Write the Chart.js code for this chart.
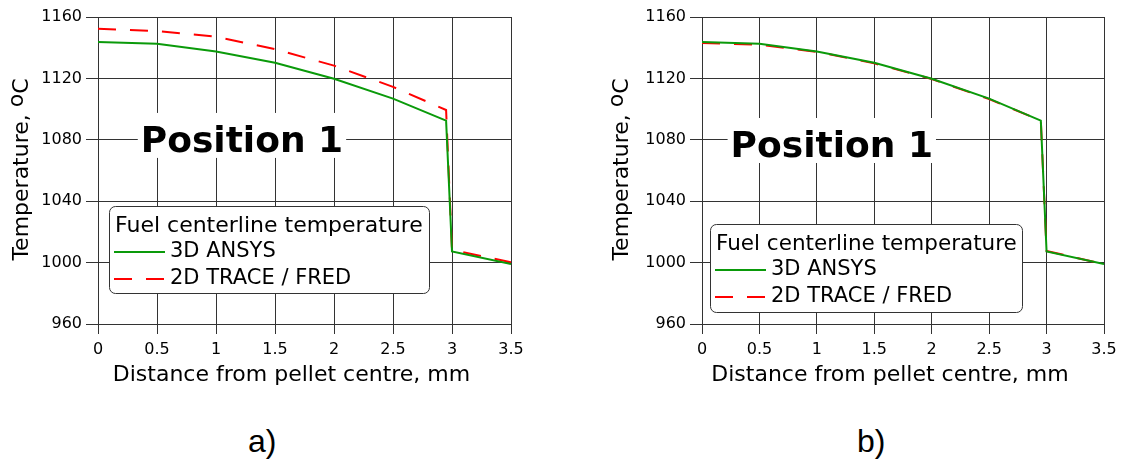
<!DOCTYPE html>
<html>
<head>
<meta charset="utf-8">
<script src="https://cdn.jsdelivr.net/npm/chart.js@4.4.1/dist/chart.umd.min.js"></script>
<style>
  html, body { margin: 0; padding: 0; background: #fff; }
  body { width: 1137px; height: 462px; position: relative; overflow: hidden; }
  .panel { position: absolute; top: 0; height: 400px; }
  .cap { position: absolute; font-family: "Liberation Sans Narrow", "Liberation Sans", Arial, sans-serif; font-size: 32px; line-height: 32px; color: #000; }
</style>
</head>
<body>
<div class="panel" style="left:0;width:560px"><canvas id="chartA" width="560" height="400"></canvas></div>
<div class="panel" style="left:600px;width:537px"><canvas id="chartB" width="537" height="400"></canvas></div>
<div class="cap" style="left:248px;top:425px">a)</div>
<div class="cap" style="left:857px;top:425px">b)</div>

<script>
// distance from pellet centre, mm
const xDist = [0, 0.5, 1, 1.5, 2, 2.5, 2.95, 3.0, 3.5];

// panel a)
const ansysA = [1143.7, 1142.5, 1137.5, 1130.2, 1119.8, 1106.8, 1092.5, 1007.2, 999.0];
const traceA = [1152.3, 1150.9, 1147.2, 1139.0, 1128.3, 1114.5, 1099.4, 1008.3, 1000.2];

// panel b)
const ansysB = [1143.7, 1142.5, 1137.5, 1130.2, 1119.8, 1106.8, 1092.5, 1007.2, 999.0];
const traceB = [1143.1, 1142.0, 1137.3, 1129.8, 1119.6, 1106.5, 1092.5, 1007.6, 999.0];

const seriesNames = ['3D ANSYS', '2D TRACE / FRED'];
const legendTitle = 'Fuel centerline temperature';
const tagText = 'Position 1';

const xTicks = [0, 0.5, 1, 1.5, 2, 2.5, 3, 3.5];
const xTickLabels = ['0', '0.5', '1', '1.5', '2', '2.5', '3', '3.5'];
const yTicks = [960, 1000, 1040, 1080, 1120, 1160];
const yTickLabels = ['960', '1000', '1040', '1080', '1120', '1160'];

const xTitle = 'Distance from pellet centre, mm';
const yTitle = ['Temperature, ', 'o', 'C'];

const FONT = '"DejaVu Sans", Verdana, sans-serif';
const GREEN = '#0a9a0a';
const RED = '#ff0000';
const GRID = '#333';

const extras = {
    id: 'extras',
    beforeDatasetsDraw(chart, args, o) {
        const { ctx, chartArea, scales } = chart;
        ctx.save();

        // "Position 1" tag on a white patch
        ctx.font = 'bold 36px ' + FONT;
        const tw = ctx.measureText(tagText).width;
        const tx = scales.x.getPixelForValue(o.tagAt[0]);
        const ty = scales.y.getPixelForValue(o.tagAt[1]);
        ctx.fillStyle = '#fff';
        ctx.fillRect(tx - tw / 2 - 3, ty - 39, tw + 6, 45);
        ctx.fillStyle = '#000';
        ctx.textAlign = 'center';
        ctx.textBaseline = 'alphabetic';
        ctx.fillText(tagText, tx, ty);

        // legend box
        const bx = chartArea.left + o.legend.dx;
        const by = chartArea.top + o.legend.dy;
        ctx.beginPath();
        ctx.roundRect(bx + 0.5, by + 0.5, o.legend.w, o.legend.h, 6);
        ctx.fillStyle = '#fff';
        ctx.fill();
        ctx.strokeStyle = '#333';
        ctx.lineWidth = 1;
        ctx.stroke();

        ctx.textAlign = 'left';
        ctx.textBaseline = 'middle';
        ctx.fillStyle = '#000';
        ctx.font = o.legend.titleSize + 'px ' + FONT;
        ctx.fillText(legendTitle, bx + 6, by + 20);

        ctx.font = o.legend.itemSize + 'px ' + FONT;
        chart.data.datasets.forEach((ds, i) => {
            const ry = by + 46 + i * 27;
            ctx.beginPath();
            ctx.setLineDash(ds.borderDash || []);
            ctx.strokeStyle = ds.borderColor;
            ctx.lineWidth = ds.borderWidth;
            ctx.moveTo(bx + 5, ry);
            ctx.lineTo(bx + 56, ry);
            ctx.stroke();
            ctx.setLineDash([]);
            ctx.fillText(ds.label, bx + 61, ry);
        });

        // axis titles
        ctx.font = '22px ' + FONT;
        ctx.textBaseline = 'alphabetic';
        ctx.textAlign = 'center';
        ctx.fillText(xTitle, (chartArea.left + chartArea.right) / 2 - 13, 381);

        const w0 = ctx.measureText(yTitle[0]).width;
        const w1 = ctx.measureText(yTitle[1]).width;
        const w2 = ctx.measureText(yTitle[2]).width;
        ctx.translate(28, (chartArea.top + chartArea.bottom) / 2 - 1);
        ctx.rotate(-Math.PI / 2);
        ctx.textAlign = 'left';
        let sx = -(w0 + w1 + w2) / 2;
        ctx.fillText(yTitle[0], sx, 0);
        ctx.fillText(yTitle[1], sx + w0, -5);
        ctx.fillText(yTitle[2], sx + w0 + w1, 0);
        ctx.restore();
    }
};

function makeChart(id, ansys, trace, cfg) {
    const toPts = arr => xDist.map((x, i) => ({ x: x, y: arr[i] }));
    return new Chart(document.getElementById(id), {
        type: 'line',
        data: {
            datasets: [
                { label: seriesNames[0], data: toPts(ansys), borderColor: GREEN, borderWidth: 2, pointRadius: 0, tension: 0 },
                { label: seriesNames[1], data: toPts(trace), borderColor: RED, borderWidth: 2, borderDash: [18, 14], pointRadius: 0, tension: 0 }
            ]
        },
        options: {
            responsive: false,
            animation: false,
            devicePixelRatio: 1,
            layout: { padding: { left: 0, top: 17, right: cfg.padRight, bottom: 0 } },
            plugins: {
                legend: { display: false },
                tooltip: { enabled: false },
                extras: { tagAt: cfg.tagAt, legend: cfg.legend }
            },
            scales: {
                x: {
                    type: 'linear', min: 0, max: 3.5,
                    afterBuildTicks: s => { s.ticks = xTicks.map(v => ({ value: v })); },
                    afterFit: s => { s.height = 76; },
                    ticks: { color: '#000', font: { family: FONT, size: 16 }, padding: 6, maxRotation: 0,
                        callback: (v, i) => xTickLabels[i] },
                    grid: { color: GRID, lineWidth: 1, tickLength: 10 },
                    border: { color: GRID, width: 1 }
                },
                y: {
                    type: 'linear', min: 960, max: 1160,
                    afterBuildTicks: s => { s.ticks = yTicks.map(v => ({ value: v })); },
                    afterFit: s => { s.width = cfg.yWidth; },
                    ticks: { color: '#000', font: { family: FONT, size: 16 }, padding: 4,
                        callback: (v, i) => yTickLabels[i] },
                    grid: { color: GRID, lineWidth: 1, tickLength: 12 },
                    border: { color: GRID, width: 1 }
                }
            }
        },
        plugins: [extras]
    });
}

makeChart('chartA', ansysA, traceA, {
    padRight: 49, yWidth: 98, tagAt: [1.22, 1072.1],
    legend: { dx: 11, dy: 189, w: 320, h: 87, titleSize: 22, itemSize: 21 }
});
makeChart('chartB', ansysB, traceB, {
    padRight: 33, yWidth: 102, tagAt: [1.13, 1068.8],
    legend: { dx: 8, dy: 207, w: 312, h: 88, titleSize: 21.5, itemSize: 21 }
});
</script>
</body>
</html>
